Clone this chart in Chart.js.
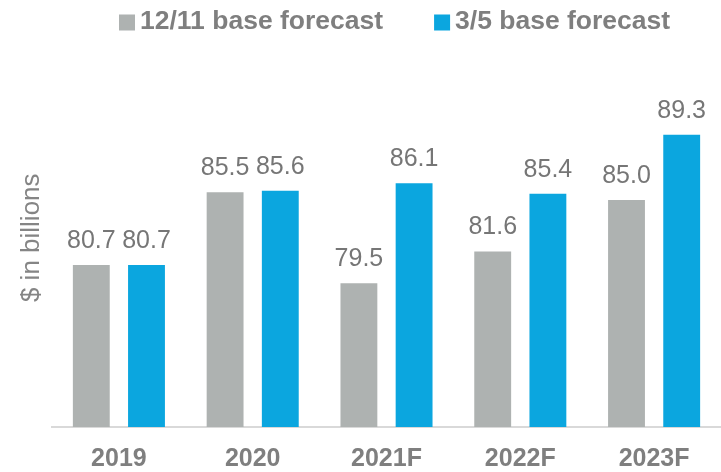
<!DOCTYPE html>
<html>
<head>
<meta charset="utf-8">
<script src="https://cdn.jsdelivr.net/npm/chart.js@4/dist/chart.umd.min.js"></script>
<style>
  html, body { margin: 0; padding: 0; background: #fff; }
  #wrap { width: 721px; height: 472px; position: relative; }
</style>
</head>
<body>
<div id="wrap"><canvas id="myChart" width="721" height="472"></canvas></div>
<script>
const categories = ["2019", "2020", "2021F", "2022F", "2023F"];
const seriesNames = ["12/11 base forecast", "3/5 base forecast"];
const dec11Values = [80.7, 85.5, 79.5, 81.6, 85.0];
const mar5Values = [80.7, 85.6, 86.1, 85.4, 89.3];
const seriesColors = ["#AEB2B1", "#0BA6DF"];

const FONT = '"Liberation Sans", Arial, sans-serif';
const TEXT_GREY = "#7F7F7F";

// values above each bar
const valueLabels = {
    id: "valueLabels",
    afterDatasetsDraw(chart) {
        const ctx = chart.ctx;
        ctx.save();
        ctx.font = "25px " + FONT;
        ctx.fillStyle = "#767676";
        ctx.textAlign = "center";
        ctx.textBaseline = "middle";
        chart.data.datasets.forEach((ds, i) => {
            chart.getDatasetMeta(i).data.forEach((bar, j) => {
                ctx.fillText(ds.data[j].toFixed(1), bar.x, bar.y - 24);
            });
        });
        ctx.restore();
    }
};

// legend row and the rotated axis title
const extras = {
    id: "extras",
    afterDraw(chart) {
        const ctx = chart.ctx;
        const area = chart.chartArea;
        ctx.save();

        ctx.font = "bold 26.5px " + FONT;
        ctx.textBaseline = "middle";
        let x = 119;
        chart.data.datasets.forEach((ds) => {
            ctx.fillStyle = ds.backgroundColor;
            ctx.fillRect(x, 14.5, 16, 16);
            ctx.fillStyle = TEXT_GREY;
            ctx.fillText(ds.label, x + 21, 22);
            x += 21 + ctx.measureText(ds.label).width + 51;
        });

        ctx.translate(32, (area.top + area.bottom) / 2);
        ctx.rotate(-Math.PI / 2);
        ctx.font = "26px " + FONT;
        ctx.fillStyle = "#858585";
        ctx.textAlign = "center";
        ctx.fillText("$ in billions", 0, 0);
        ctx.restore();
    }
};

const ctx = document.getElementById("myChart").getContext("2d");
const myChart = new Chart(ctx, {
    type: "bar",
    data: {
        labels: categories,
        datasets: [
            { label: seriesNames[0], data: dec11Values, backgroundColor: seriesColors[0] },
            { label: seriesNames[1], data: mar5Values, backgroundColor: seriesColors[1] }
        ]
    },
    options: {
        responsive: false,
        animation: false,
        devicePixelRatio: 1,
        layout: { padding: { left: 52, right: -3, top: 48.5, bottom: -18.5 } },
        datasets: {
            bar: { categoryPercentage: 0.825, barPercentage: 0.668, borderWidth: 0 }
        },
        plugins: {
            legend: { display: false },
            tooltip: { enabled: false }
        },
        scales: {
            x: {
                grid: { display: false, drawTicks: false },
                border: { display: true, color: "#D9D9D9", width: 2 },
                ticks: {
                    color: TEXT_GREY,
                    padding: 18,
                    font: { family: FONT, size: 25, weight: "bold", lineHeight: 1.1 }
                }
            },
            y: {
                display: false,
                min: 70,
                max: 95
            }
        }
    },
    plugins: [valueLabels, extras]
});
</script>
</body>
</html>
